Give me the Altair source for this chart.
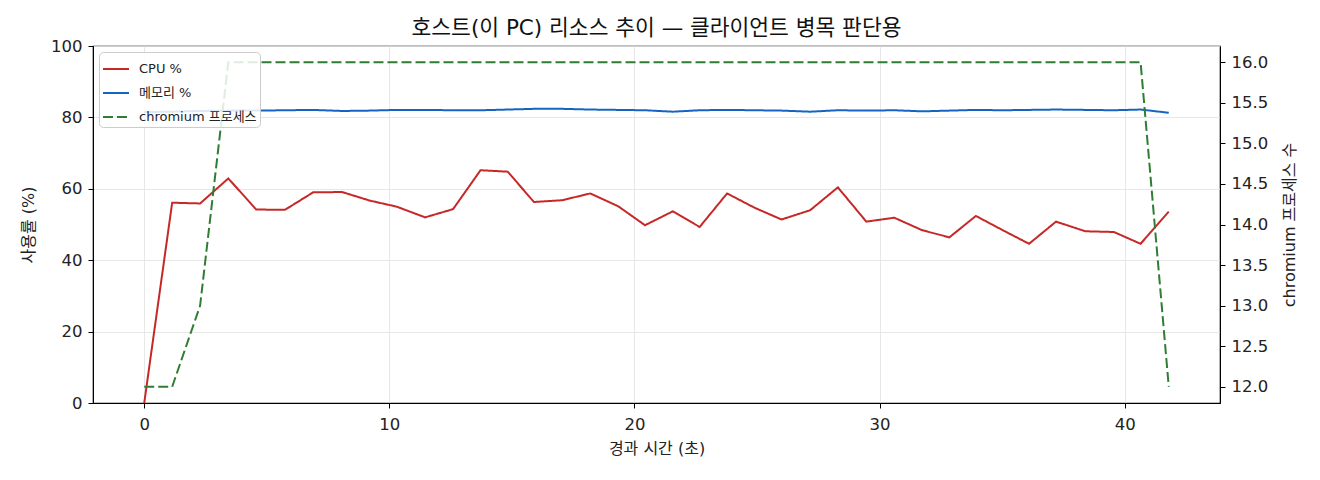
import pandas as pd
import altair as alt

FONT = "DejaVu Sans, Noto Sans CJK KR"

# elapsed seconds of each sample
times = [0.0, 1.14, 2.28, 3.43, 4.57, 5.74, 6.89, 8.07, 9.2, 10.3,
         11.46, 12.6, 13.72, 14.83, 15.9, 17.05, 18.2, 19.34, 20.43, 21.57,
         22.66, 23.78, 24.9, 26.0, 27.17, 28.3, 29.46, 30.6, 31.74, 32.85,
         33.93, 35.0, 36.1, 37.2, 38.4, 39.56, 40.65, 41.8]

cpu = [0.0, 56.1, 55.9, 62.9, 54.2, 54.1, 59.0, 59.1, 56.7, 55.0,
       52.0, 54.3, 65.2, 64.8, 56.3, 56.8, 58.7, 55.1, 49.8, 53.7,
       49.3, 58.7, 54.7, 51.4, 54.0, 60.4, 50.8, 51.9, 48.4, 46.4,
       52.4, 48.5, 44.6, 50.8, 48.1, 47.9, 44.6, 53.6]

mem = [81.5, 81.6, 81.8, 81.9, 81.9, 82.0, 82.1, 81.8, 81.9, 82.1,
       82.1, 82.0, 82.0, 82.2, 82.4, 82.4, 82.2, 82.1, 82.0, 81.6,
       82.0, 82.1, 82.0, 81.9, 81.6, 82.0, 81.9, 82.0, 81.7, 81.9,
       82.1, 82.0, 82.1, 82.2, 82.1, 82.0, 82.2, 81.3]

procs = [12, 12, 13, 16, 16, 16, 16, 16, 16, 16,
         16, 16, 16, 16, 16, 16, 16, 16, 16, 16,
         16, 16, 16, 16, 16, 16, 16, 16, 16, 16,
         16, 16, 16, 16, 16, 16, 16, 12]

series = ["CPU %", "메모리 %", "chromium 프로세스"]
colors = ["#c62828", "#1565c0", "#2e7d32"]
dashes = [[1, 0], [1, 0], [10, 4]]

n = len(times)
df_pct = pd.DataFrame({
    "t": times + times,
    "v": cpu + mem,
    "s": [series[0]] * n + [series[1]] * n,
})
df_proc = pd.DataFrame({"t": times, "v": procs, "s": [series[2]] * n})

legend = alt.Legend(
    title=None, orient="top-left", offset=6, padding=3,
    fillColor="rgba(255,255,255,0.85)", strokeColor="#cccccc", cornerRadius=4,
    symbolType="stroke", symbolSize=676, symbolStrokeWidth=2,
    labelFont=FONT, labelFontSize=13, labelColor="#222222", labelOffset=9,
    rowPadding=3,
)
color = alt.Color("s:N", scale=alt.Scale(domain=series, range=colors), legend=legend)
dash = alt.StrokeDash("s:N", scale=alt.Scale(domain=series, range=dashes), legend=legend)

x = alt.X("t:Q", scale=alt.Scale(domain=[-2.09, 43.89], nice=False, zero=False),
          axis=alt.Axis(title="경과 시간 (초)", values=[0, 10, 20, 30, 40],
                        labelPadding=8, titlePadding=8))

left = alt.Chart(df_pct).mark_line(strokeWidth=2).encode(
    x=x,
    y=alt.Y("v:Q", scale=alt.Scale(domain=[0, 100], nice=False),
            axis=alt.Axis(title="사용률 (%)", values=[0, 20, 40, 60, 80, 100],
                          titlePadding=14)),
    color=color,
    strokeDash=dash,
)

right = alt.Chart(df_proc).mark_line(strokeWidth=2).encode(
    x=x,
    y=alt.Y("v:Q", scale=alt.Scale(domain=[11.8, 16.2], nice=False, zero=False),
            axis=alt.Axis(title="chromium 프로세스 수", orient="right", grid=False,
                          values=[12, 12.5, 13, 13.5, 14, 14.5, 15, 15.5, 16],
                          format=".1f", titleAngle=270, titleBaseline="top",
                          titlePadding=14)),
    color=color,
    strokeDash=dash,
)

chart = alt.layer(left, right).resolve_scale(y="independent").properties(
    width=1127, height=357,
    autosize="none",
    padding={"left": 85, "top": 38, "right": 92, "bottom": 69},
    title=alt.TitleParams("호스트(이 PC) 리소스 추이 — 클라이언트 병목 판단용",
                          font=FONT, fontSize=21.5, fontWeight="normal",
                          color="#111111", offset=-1, frame="group"),
).configure_view(
    stroke="black", strokeWidth=1.2
).configure_axis(
    labelFont=FONT, titleFont=FONT, labelFontSize=16.5, titleFontSize=16,
    titleFontWeight="normal", labelColor="#222222", titleColor="#222222",
    domainColor="black", tickColor="black", tickSize=5, labelPadding=6,
    gridColor="#e4e4e4", gridWidth=0.9,
)

chart.save("out.html", embed_options={"renderer": "svg", "actions": False})
